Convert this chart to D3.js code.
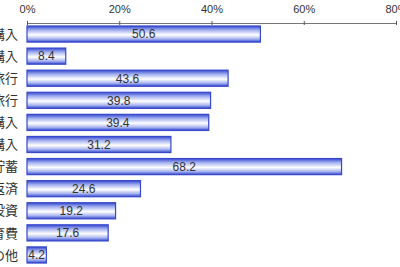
<!DOCTYPE html>
<html><head><meta charset="utf-8">
<script src="https://cdn.jsdelivr.net/npm/d3@7/dist/d3.min.js"></script>
<style>body{margin:0;background:#fff;overflow:hidden}svg{display:block}</style>
</head><body>
<script>
const categories = ["住宅購入","土地購入","海外旅行","国内旅行","自動車購入","家電製品購入","将来のための貯蓄","ローン返済","株式投資","子供の教育費","その他"];
const values = [50.6, 8.4, 43.6, 39.8, 39.4, 31.2, 68.2, 24.6, 19.2, 17.6, 4.2];
const tickValues = [0, 20, 40, 60, 80];
const tickLabels = ["0%","20%","40%","60%","80%"];

const W = 400, H = 267;
const svg = d3.select("body").append("svg").attr("width", W).attr("height", H);
const defs = svg.append("defs");
const grad = defs.append("linearGradient").attr("id","bg").attr("x1",0).attr("y1",0).attr("x2",0).attr("y2",1);
[[0,"#3448d0"],[0.25,"#a2aff0"],[0.55,"#ffffff"],[0.8,"#aab5f0"],[1,"#3448d0"]].forEach(([o,c])=>
  grad.append("stop").attr("offset",o).attr("stop-color",c));

const x = d3.scaleLinear().domain([0,80]).range([27,396]);
const y = d3.scaleBand().domain(categories).range([23,266]).paddingInner(0.27).paddingOuter(0.135);

// axis
const axis = d3.axisTop(x).tickValues(tickValues).tickFormat((d,i)=>tickLabels[i]).tickSize(3).tickSizeOuter(0);
const ag = svg.append("g").attr("transform","translate(0,23)").call(axis);
ag.select(".domain").attr("stroke","#777");
ag.selectAll(".tick line").attr("stroke","#555").attr("y1",2).attr("y2",-2);
ag.selectAll(".tick text").attr("y",-10).attr("font-family","Liberation Sans Narrow, Liberation Sans, Arial").attr("font-size",11).attr("fill","#333");

// bars
svg.selectAll("rect.bar").data(values).join("rect").attr("class","bar")
  .attr("x", x(0)).attr("y",(d,i)=>y(categories[i]))
  .attr("width", d=>x(d)-x(0)).attr("height", y.bandwidth())
  .attr("fill","url(#bg)").attr("stroke","#3848cc").attr("stroke-width",1.2);

// value labels
svg.selectAll("text.val").data(values).join("text").attr("class","val")
  .attr("x", d=>(x(d)+x(0))/2).attr("y",(d,i)=>y(categories[i])+y.bandwidth()/2)
  .attr("dy","0.36em").attr("text-anchor","middle")
  .attr("font-family","Liberation Sans, Arial").attr("font-size",12).attr("fill","#333")
  .text(d=>d.toFixed(1));

// category labels
svg.selectAll("text.cat").data(categories).join("text").attr("class","cat")
  .attr("x", 18).attr("y", d=>y(d)+y.bandwidth()/2).attr("dy","0.36em")
  .attr("text-anchor","end").attr("font-family","Noto Sans CJK JP").attr("font-size",13).attr("fill","#333")
  .text(d=>d);
</script>
</body></html>
